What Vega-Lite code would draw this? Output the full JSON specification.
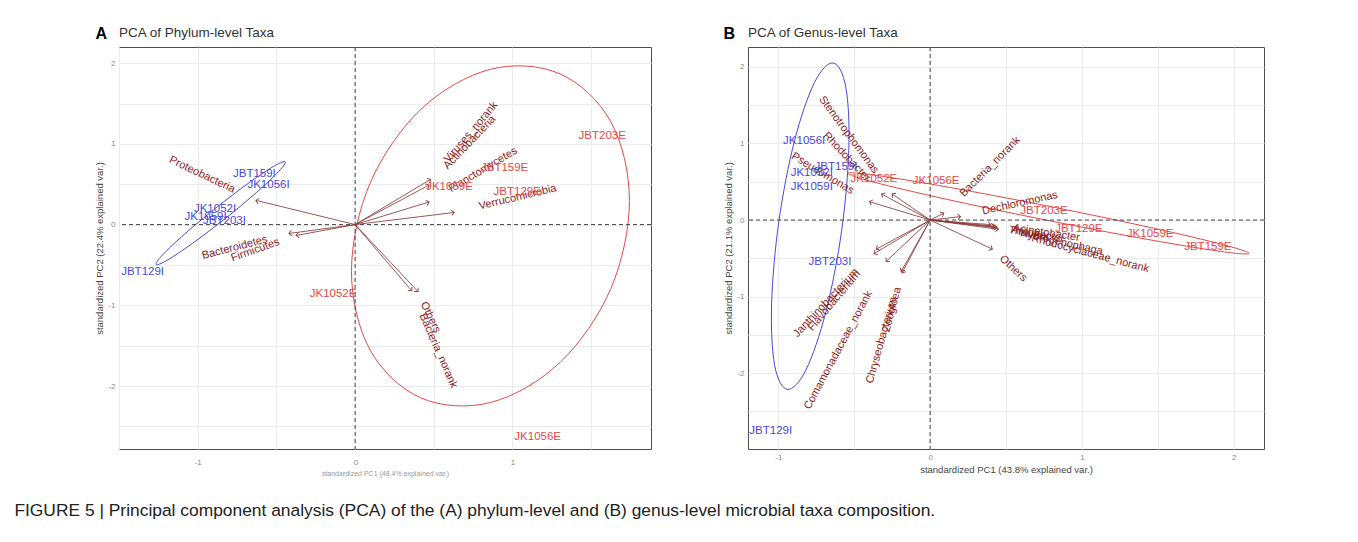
{
  "$schema": "https://vega.github.io/schema/vega-lite/v6.json",
  "background": "white",
  "padding": {"left": 14, "top": 25, "right": 10, "bottom": 12},
  "config": {
    "font": "Liberation Sans",
    "view": {"stroke": "#4d4d4d", "strokeWidth": 1},
    "axis": {"gridColor": "#ebebeb", "gridWidth": 1, "domain": false, "ticks": false, "labelColor": "#8a8a8a", "labelFontSize": 8, "labelPadding": 4, "titleFontSize": 9.5, "titleFontWeight": "normal", "titleColor": "#444", "titlePadding": 3}
  },
  "title": {"text": "FIGURE 5 | Principal component analysis (PCA) of the (A) phylum-level and (B) genus-level microbial taxa composition.", "orient": "bottom", "anchor": "start", "frame": "bounds", "fontSize": 17.4, "fontWeight": "normal", "color": "#222", "offset": 25, "dx": -80},
  "datasets": {
    "sampA": [
      {"name": "JBT159I", "x": -0.64, "y": 0.63, "group": "I"},
      {"name": "JK1056I", "x": -0.55, "y": 0.49, "group": "I"},
      {"name": "JK1052I", "x": -0.89, "y": 0.19, "group": "I"},
      {"name": "JK1059I", "x": -0.95, "y": 0.09, "group": "I"},
      {"name": "JBT203I", "x": -0.83, "y": 0.04, "group": "I"},
      {"name": "JBT129I", "x": -1.35, "y": -0.59, "group": "I"},
      {"name": "JBT203E", "x": 1.57, "y": 1.10, "group": "E"},
      {"name": "JBT159E", "x": 0.95, "y": 0.70, "group": "E"},
      {"name": "JK1059E", "x": 0.60, "y": 0.46, "group": "E"},
      {"name": "JBT129E", "x": 1.03, "y": 0.40, "group": "E"},
      {"name": "JK1052E", "x": -0.14, "y": -0.86, "group": "E"},
      {"name": "JK1056E", "x": 1.16, "y": -2.63, "group": "E"}
    ],
    "varA": [
      {"name": "Proteobacteria", "x": -0.63, "y": 0.30},
      {"name": "Bacteroidetes", "x": -0.42, "y": -0.11},
      {"name": "Firmicutes", "x": -0.375, "y": -0.135},
      {"name": "Viruses_norank", "x": 0.48, "y": 0.56},
      {"name": "Actinobacteria", "x": 0.47, "y": 0.49},
      {"name": "Planctomycetes", "x": 0.47, "y": 0.28},
      {"name": "Verrucomicrobia", "x": 0.63, "y": 0.15},
      {"name": "Others", "x": 0.40, "y": -0.83},
      {"name": "Bacteria_norank", "x": 0.36, "y": -0.82}
    ],
    "ellA": [
      {"group": "E", "i": 0, "x": 1.743, "y": 0.299},
      {"group": "E", "i": 1, "x": 1.625, "y": 1.272},
      {"group": "E", "i": 2, "x": 1.302, "y": 1.867},
      {"group": "E", "i": 3, "x": 0.86, "y": 1.924},
      {"group": "E", "i": 4, "x": 0.418, "y": 1.428},
      {"group": "E", "i": 5, "x": 0.095, "y": 0.512},
      {"group": "E", "i": 6, "x": -0.023, "y": -0.579},
      {"group": "E", "i": 7, "x": 0.095, "y": -1.552},
      {"group": "E", "i": 8, "x": 0.418, "y": -2.147},
      {"group": "E", "i": 9, "x": 0.86, "y": -2.204},
      {"group": "E", "i": 10, "x": 1.302, "y": -1.708},
      {"group": "E", "i": 11, "x": 1.625, "y": -0.792},
      {"group": "I", "i": 0, "x": -0.444, "y": 0.778},
      {"group": "I", "i": 1, "x": -0.485, "y": 0.659},
      {"group": "I", "i": 2, "x": -0.625, "y": 0.401},
      {"group": "I", "i": 3, "x": -0.826, "y": 0.074},
      {"group": "I", "i": 4, "x": -1.035, "y": -0.235},
      {"group": "I", "i": 5, "x": -1.195, "y": -0.443},
      {"group": "I", "i": 6, "x": -1.264, "y": -0.494},
      {"group": "I", "i": 7, "x": -1.223, "y": -0.375},
      {"group": "I", "i": 8, "x": -1.083, "y": -0.117},
      {"group": "I", "i": 9, "x": -0.882, "y": 0.210},
      {"group": "I", "i": 10, "x": -0.673, "y": 0.519},
      {"group": "I", "i": 11, "x": -0.513, "y": 0.727}
    ],
    "sampB": [
      {"name": "JK1056I", "x": -0.83, "y": 1.03, "group": "I"},
      {"name": "JBT159I", "x": -0.62, "y": 0.69, "group": "I"},
      {"name": "JK1052I", "x": -0.78, "y": 0.61, "group": "I"},
      {"name": "JK1059I", "x": -0.78, "y": 0.43, "group": "I"},
      {"name": "JBT203I", "x": -0.66, "y": -0.55, "group": "I"},
      {"name": "JBT129I", "x": -1.05, "y": -2.76, "group": "I"},
      {"name": "JK1052E", "x": -0.37, "y": 0.54, "group": "E"},
      {"name": "JK1056E", "x": 0.04, "y": 0.51, "group": "E"},
      {"name": "JBT203E", "x": 0.75, "y": 0.12, "group": "E"},
      {"name": "JBT129E", "x": 0.98, "y": -0.12, "group": "E"},
      {"name": "JK1059E", "x": 1.45, "y": -0.18, "group": "E"},
      {"name": "JBT159E", "x": 1.83, "y": -0.35, "group": "E"}
    ],
    "varB": [
      {"name": "Pseudomonas", "x": -0.40, "y": 0.24},
      {"name": "Stenotrophomonas", "x": -0.25, "y": 0.34},
      {"name": "Rhodobacter", "x": -0.32, "y": 0.34},
      {"name": "Bacteria_norank", "x": 0.09, "y": 0.09},
      {"name": "Dechloromonas", "x": 0.20, "y": 0.045},
      {"name": "Others", "x": 0.41, "y": -0.38},
      {"name": "Acinetobacter", "x": 0.40, "y": -0.06},
      {"name": "Arcobacter", "x": 0.42, "y": -0.08},
      {"name": "Thauera", "x": 0.43, "y": -0.09},
      {"name": "Hydrogenophaga", "x": 0.44, "y": -0.10},
      {"name": "Rhodocyclaceae_norank", "x": 0.45, "y": -0.12},
      {"name": "Janthinobacterium", "x": -0.355, "y": -0.38},
      {"name": "Flavobacterium", "x": -0.37, "y": -0.44},
      {"name": "Comamonadaceae_norank", "x": -0.29, "y": -0.54},
      {"name": "Chryseobacterium", "x": -0.19, "y": -0.67},
      {"name": "Zoogloea", "x": -0.185, "y": -0.69}
    ],
    "ellB": [
      {"group": "E", "i": 0, "x": 2.102, "y": -0.436},
      {"group": "E", "i": 1, "x": 1.920, "y": -0.411},
      {"group": "E", "i": 2, "x": 1.432, "y": -0.2525},
      {"group": "E", "i": 3, "x": 0.77, "y": -0.003},
      {"group": "E", "i": 4, "x": 0.110, "y": 0.2705},
      {"group": "E", "i": 5, "x": -0.370, "y": 0.495},
      {"group": "E", "i": 6, "x": -0.542, "y": 0.610},
      {"group": "E", "i": 7, "x": -0.360, "y": 0.585},
      {"group": "E", "i": 8, "x": 0.128, "y": 0.4265},
      {"group": "E", "i": 9, "x": 0.79, "y": 0.177},
      {"group": "E", "i": 10, "x": 1.450, "y": -0.0965},
      {"group": "E", "i": 11, "x": 1.930, "y": -0.321},
      {"group": "I", "i": 0, "x": -0.639, "y": 2.051},
      {"group": "I", "i": 1, "x": -0.5555, "y": 1.736},
      {"group": "I", "i": 2, "x": -0.5355, "y": 0.9355},
      {"group": "I", "i": 3, "x": -0.583, "y": -0.138},
      {"group": "I", "i": 4, "x": -0.6865, "y": -1.1955},
      {"group": "I", "i": 5, "x": -0.8175, "y": -1.954},
      {"group": "I", "i": 6, "x": -0.941, "y": -2.211},
      {"group": "I", "i": 7, "x": -1.0245, "y": -1.896},
      {"group": "I", "i": 8, "x": -1.0445, "y": -1.0955},
      {"group": "I", "i": 9, "x": -0.997, "y": -0.022},
      {"group": "I", "i": 10, "x": -0.8935, "y": 1.0355},
      {"group": "I", "i": 11, "x": -0.7625, "y": 1.794}
    ]
  },
  "spacing": 71,
  "hconcat": [
    {
      "title": {"text": "A", "anchor": "start", "frame": "bounds", "fontSize": 16, "fontWeight": "bold", "color": "#000", "dx": 1, "dy": 16, "offset": 0},
      "vconcat": [
        {
          "width": 532,
          "height": 402,
          "title": {"text": "PCA of Phylum-level Taxa", "anchor": "start", "frame": "group", "dx": 0, "fontSize": 13.5, "fontWeight": "normal", "color": "#333", "offset": 7},
          "layer": [
            {
              "data": {"name": "ellA"},
              "mark": {"type": "line", "interpolate": "cardinal-closed", "strokeWidth": 1, "clip": true},
              "encoding": {
                "x": {"field": "x", "type": "quantitative", "scale": {"domain": [-1.5, 1.88], "nice": false, "zero": false},
                  "axis": {"title": "standardized PC1 (48.4% explained var.)", "titleFontSize": 7, "titleColor": "#999", "labelPadding": 9, "values": [-1.5, -1, -0.5, 0, 0.5, 1, 1.5], "labelExpr": "datum.value % 1 === 0 ? '' + datum.value : ''"}},
                "y": {"field": "y", "type": "quantitative", "scale": {"domain": [-2.78, 2.2], "nice": false, "zero": false},
                  "axis": {"title": "standardized PC2 (22.4% explained var.)", "values": [-2.5, -2, -1.5, -1, -0.5, 0, 0.5, 1, 1.5, 2], "labelExpr": "datum.value % 1 === 0 ? '' + datum.value : ''"}},
                "color": {"field": "group", "type": "nominal", "scale": {"domain": ["E", "I"], "range": ["#e54848", "#4848dc"]}, "legend": null},
                "order": {"field": "i", "type": "quantitative"}
              }
            },
            {
              "data": {"values": [{}]},
              "mark": {"type": "rule", "strokeDash": [4, 3], "color": "#444", "strokeWidth": 1},
              "encoding": {"x": {"datum": 0, "type": "quantitative"}}
            },
            {
              "data": {"values": [{}]},
              "mark": {"type": "rule", "strokeDash": [4, 3], "color": "#444", "strokeWidth": 1},
              "encoding": {"y": {"datum": 0, "type": "quantitative"}}
            },
            {
              "data": {"name": "varA"},
              "mark": {"type": "rule", "color": "#8b3a3a", "opacity": 0.85, "strokeWidth": 1, "clip": true},
              "encoding": {
                "x": {"field": "x", "type": "quantitative"},
                "y": {"field": "y", "type": "quantitative"},
                "x2": {"datum": 0},
                "y2": {"datum": 0}
              }
            },
            {
              "data": {"name": "varA"},
              "transform": [{"calculate": "atan2(datum.x * 157.4, datum.y * 80.8) * 180 / PI", "as": "ang"}],
              "mark": {"type": "point", "shape": "M-1,1L0,0L1,1", "filled": false, "size": 30, "strokeWidth": 1, "color": "#8b3a3a", "opacity": 0.9, "clip": true},
              "encoding": {
                "x": {"field": "x", "type": "quantitative"},
                "y": {"field": "y", "type": "quantitative"},
                "angle": {"field": "ang", "type": "quantitative", "scale": null}
              }
            },
            {
              "data": {"name": "varA"},
              "transform": [{"calculate": "-atan(datum.y / datum.x) * 180 / PI", "as": "ta"}],
              "mark": {"type": "text", "align": {"expr": "datum.x < 0 ? 'right' : 'left'"}, "baseline": "middle", "dx": {"expr": "(datum.x < 0 ? -1 : 1) * (3 + 1.5 * length(datum.name))"}, "fontSize": 11, "color": "#8b1a1a", "clip": true},
              "encoding": {
                "x": {"field": "x", "type": "quantitative"},
                "y": {"field": "y", "type": "quantitative"},
                "text": {"field": "name", "type": "nominal"},
                "angle": {"field": "ta", "type": "quantitative", "scale": null}
              }
            },
            {
              "data": {"name": "sampA"},
              "mark": {"type": "text", "fontSize": 11.5, "baseline": "middle", "clip": true},
              "encoding": {
                "x": {"field": "x", "type": "quantitative"},
                "y": {"field": "y", "type": "quantitative"},
                "text": {"field": "name", "type": "nominal"},
                "color": {"field": "group", "type": "nominal", "scale": {"domain": ["E", "I"], "range": ["#e54848", "#4848dc"]}, "legend": null}
              }
            }
          ]
        }
      ]
    },
    {
      "title": {"text": "B", "anchor": "start", "frame": "bounds", "fontSize": 16, "fontWeight": "bold", "color": "#000", "dx": 0, "dy": 16, "offset": 0},
      "vconcat": [
        {
          "width": 516,
          "height": 402,
          "title": {"text": "PCA of Genus-level Taxa", "anchor": "start", "frame": "group", "dx": 0, "fontSize": 13.5, "fontWeight": "normal", "color": "#333", "offset": 7},
          "layer": [
            {
              "data": {"name": "ellB"},
              "mark": {"type": "line", "interpolate": "cardinal-closed", "strokeWidth": 1, "clip": true},
              "encoding": {
                "x": {"field": "x", "type": "quantitative", "scale": {"domain": [-1.2, 2.2], "nice": false, "zero": false},
                  "axis": {"title": "standardized PC1 (43.8% explained var.)", "values": [-1, -0.5, 0, 0.5, 1, 1.5, 2], "labelExpr": "datum.value % 1 === 0 ? '' + datum.value : ''"}},
                "y": {"field": "y", "type": "quantitative", "scale": {"domain": [-2.99, 2.26], "nice": false, "zero": false},
                  "axis": {"title": "standardized PC2 (21.1% explained var.)", "values": [-3, -2.5, -2, -1.5, -1, -0.5, 0, 0.5, 1, 1.5, 2], "labelExpr": "datum.value % 1 === 0 ? '' + datum.value : ''"}},
                "color": {"field": "group", "type": "nominal", "scale": {"domain": ["E", "I"], "range": ["#e54848", "#4848dc"]}, "legend": null},
                "order": {"field": "i", "type": "quantitative"}
              }
            },
            {
              "data": {"values": [{}]},
              "mark": {"type": "rule", "strokeDash": [4, 3], "color": "#444", "strokeWidth": 1},
              "encoding": {"x": {"datum": 0, "type": "quantitative"}}
            },
            {
              "data": {"values": [{}]},
              "mark": {"type": "rule", "strokeDash": [4, 3], "color": "#444", "strokeWidth": 1},
              "encoding": {"y": {"datum": 0, "type": "quantitative"}}
            },
            {
              "data": {"name": "varB"},
              "mark": {"type": "rule", "color": "#8b3a3a", "opacity": 0.85, "strokeWidth": 1, "clip": true},
              "encoding": {
                "x": {"field": "x", "type": "quantitative"},
                "y": {"field": "y", "type": "quantitative"},
                "x2": {"datum": 0},
                "y2": {"datum": 0}
              }
            },
            {
              "data": {"name": "varB"},
              "transform": [{"calculate": "atan2(datum.x * 151.8, datum.y * 76.6) * 180 / PI", "as": "ang"}],
              "mark": {"type": "point", "shape": "M-1,1L0,0L1,1", "filled": false, "size": 30, "strokeWidth": 1, "color": "#8b3a3a", "opacity": 0.9, "clip": true},
              "encoding": {
                "x": {"field": "x", "type": "quantitative"},
                "y": {"field": "y", "type": "quantitative"},
                "angle": {"field": "ang", "type": "quantitative", "scale": null}
              }
            },
            {
              "data": {"name": "varB"},
              "transform": [{"calculate": "-atan(datum.y / datum.x) * 180 / PI", "as": "ta"}],
              "mark": {"type": "text", "align": {"expr": "datum.x < 0 ? 'right' : 'left'"}, "baseline": "middle", "dx": {"expr": "(datum.x < 0 ? -1 : 1) * (3 + 1.5 * length(datum.name))"}, "fontSize": 11, "color": "#8b1a1a", "clip": true},
              "encoding": {
                "x": {"field": "x", "type": "quantitative"},
                "y": {"field": "y", "type": "quantitative"},
                "text": {"field": "name", "type": "nominal"},
                "angle": {"field": "ta", "type": "quantitative", "scale": null}
              }
            },
            {
              "data": {"name": "sampB"},
              "mark": {"type": "text", "fontSize": 11.5, "baseline": "middle", "clip": true},
              "encoding": {
                "x": {"field": "x", "type": "quantitative"},
                "y": {"field": "y", "type": "quantitative"},
                "text": {"field": "name", "type": "nominal"},
                "color": {"field": "group", "type": "nominal", "scale": {"domain": ["E", "I"], "range": ["#e54848", "#4848dc"]}, "legend": null}
              }
            }
          ]
        }
      ]
    }
  ]
}
